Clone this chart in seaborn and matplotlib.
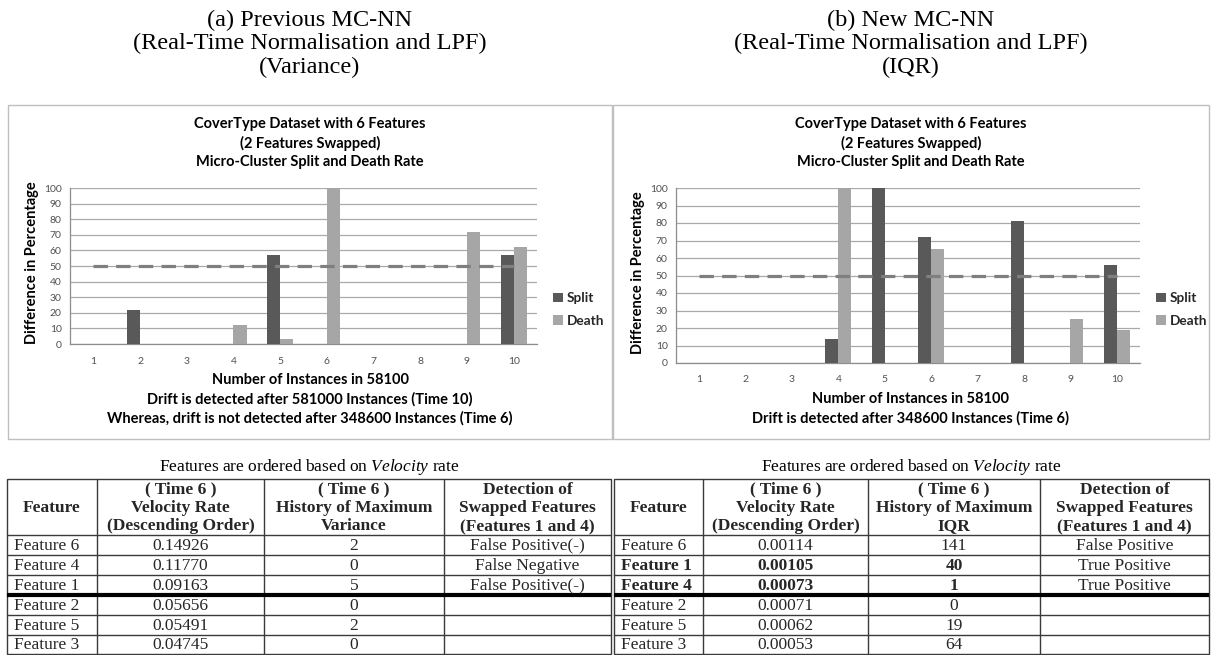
import numpy as np
import pandas as pd
import matplotlib
matplotlib.use("Agg")
import matplotlib.pyplot as plt
from matplotlib.patches import Rectangle, Patch
import seaborn as sns

# ---------------------------------------------------------------- data
times = [1, 2, 3, 4, 5, 6, 7, 8, 9, 10]
split_a = [0, 22, 0, 0, 57, 0, 0, 0, 0, 57]
death_a = [0, 0, 0, 12, 3, 100, 0, 0, 72, 62]
split_b = [0, 0, 0, 14, 100, 72, 0, 81, 0, 56]
death_b = [0, 0, 0, 100, 0, 65, 0, 0, 25, 19]
threshold = [50, 50, 50, 50, 50, 50, 50, 50, 50, 50]
series_names = ["Split", "Death"]
y_ticks = [0, 10, 20, 30, 40, 50, 60, 70, 80, 90, 100]

panel_titles_a = ["(a) Previous MC-NN", "(Real-Time Normalisation and LPF)", "(Variance)"]
panel_titles_b = ["(b) New MC-NN", "(Real-Time Normalisation and LPF)", "(IQR)"]
chart_title = ["CoverType Dataset with 6 Features", "(2 Features Swapped)",
               "Micro-Cluster Split and Death Rate"]
ylabel = "Difference in Percentage"
xlabel_a = ["Number of Instances in 58100",
            "Drift is detected after 581000 Instances (Time 10)",
            "Whereas, drift is not detected after 348600 Instances (Time 6)"]
xlabel_b = ["Number of Instances in 58100",
            "Drift is detected after 348600 Instances (Time 6)"]

table_caption = r"Features are ordered based on $\mathit{Velocity}$ rate"
header_a = ["Feature", "( Time 6 )\nVelocity Rate\n(Descending Order)",
            "( Time 6 )\nHistory of Maximum\nVariance",
            "Detection of\nSwapped Features\n(Features 1 and 4)"]
header_b = ["Feature", "( Time 6 )\nVelocity Rate\n(Descending Order)",
            "( Time 6 )\nHistory of Maximum\nIQR",
            "Detection of\nSwapped Features\n(Features 1 and 4)"]
features_a = ["Feature 6", "Feature 4", "Feature 1", "Feature 2", "Feature 5", "Feature 3"]
velocity_a = ["0.14926", "0.11770", "0.09163", "0.05656", "0.05491", "0.04745"]
history_a = [2, 0, 5, 0, 2, 0]
detection_a = ["False Positive(-)", "False Negative", "False Positive(-)", "", "", ""]
features_b = ["Feature 6", "Feature 1", "Feature 4", "Feature 2", "Feature 5", "Feature 3"]
velocity_b = ["0.00114", "0.00105", "0.00073", "0.00071", "0.00062", "0.00053"]
history_b = [141, 40, 1, 0, 19, 64]
detection_b = ["False Positive", "True Positive", "True Positive", "", "", ""]
bold_rows_b = ["Feature 1", "Feature 4"]

# ---------------------------------------------------------------- style
sns.set_style("white")
plt.rcParams["font.family"] = ["Lato", "DejaVu Sans"]
plt.rcParams["mathtext.fontset"] = "custom"
plt.rcParams["mathtext.rm"] = "Liberation Serif"
plt.rcParams["mathtext.it"] = "Liberation Serif:italic"
plt.rcParams["mathtext.bf"] = "Liberation Serif:bold"

SERIF = ["Liberation Serif", "DejaVu Serif"]
SPLIT_C = "#595959"
DEATH_C = "#a6a6a6"
GRID_C = "#a9a9a9"
TICK_C = "#505050"
CHART_FS = 10.5

W, H = 1211, 655
fig = plt.figure(figsize=(W / 100, H / 100), dpi=100)
fig.patch.set_facecolor("white")

# full-figure layer in pixel coordinates (origin top-left)
bg = fig.add_axes([0, 0, 1, 1], zorder=0)
bg.set_xlim(0, W)
bg.set_ylim(H, 0)
bg.axis("off")


def px_axes(x0, y0, x1, y1):
    return fig.add_axes([x0 / W, 1 - y1 / H, (x1 - x0) / W, (y1 - y0) / H], zorder=2)


def draw_chart(box, split, death, panel, xlabels, xlabel_top, legend_xy):
    px0, py0, px1, py1 = box
    ax = px_axes(px0, py0, px1, py1)
    ax.set_facecolor("none")
    df = pd.DataFrame({
        "Time": times * 2,
        "Rate": split + death,
        "Series": [series_names[0]] * len(times) + [series_names[1]] * len(times),
    })
    sns.barplot(data=df, x="Time", y="Rate", hue="Series", hue_order=series_names,
                palette={"Split": SPLIT_C, "Death": DEATH_C}, width=0.56,
                saturation=1, errorbar=None, linewidth=0, ax=ax, zorder=3)
    ax.plot(np.arange(len(times)), threshold, color="#7f7f7f", lw=2.3,
            linestyle=(0, (4.5, 2.6)), solid_capstyle="butt", zorder=4)
    ax.set_xlim(-0.5, len(times) - 0.5)
    ax.set_ylim(0, 100)
    ax.set_yticks(y_ticks)
    ax.set_yticklabels([str(v) for v in y_ticks])
    ax.yaxis.grid(True, color=GRID_C, lw=0.9, zorder=0)
    ax.set_axisbelow(True)
    for s in ["top", "right"]:
        ax.spines[s].set_visible(False)
    for s in ["left", "bottom"]:
        ax.spines[s].set_color("#8c8c8c")
        ax.spines[s].set_linewidth(0.9)
    ax.tick_params(axis="y", length=3, width=0.8, color="#8c8c8c", pad=3,
                   labelsize=7.5, labelcolor=TICK_C)
    ax.tick_params(axis="x", which="major", length=0, pad=9,
                   labelsize=7.5, labelcolor=TICK_C)
    ax.set_xticks(np.arange(-0.5, len(times), 1.0), minor=True)
    ax.tick_params(axis="x", which="minor", length=4, width=0.8, color="#8c8c8c")
    ax.set_xlabel("")
    ax.set_ylabel("")
    leg = ax.get_legend()
    if leg is not None:
        leg.remove()
    handles = [Patch(facecolor=SPLIT_C, edgecolor="none"),
               Patch(facecolor=DEATH_C, edgecolor="none")]
    ax.legend(handles, series_names, loc="center left",
              bbox_to_anchor=(legend_xy[0] / W, 1 - legend_xy[1] / H),
              bbox_transform=fig.transFigure, frameon=False,
              prop={"family": "Lato", "weight": "bold", "size": 9.8},
              handlelength=0.7, handleheight=0.7, handletextpad=0.3,
              labelspacing=0.75, borderpad=0, borderaxespad=0)

    # panel frame and texts
    fx0, fy0, fx1, fy1 = panel
    bg.add_patch(Rectangle((fx0, fy0), fx1 - fx0, fy1 - fy0, fill=False,
                           edgecolor="#bfbfbf", lw=1.0))
    cx = (fx0 + fx1) / 2
    for i, line in enumerate(chart_title):
        bg.text(cx, 124 + 19 * i, line, ha="center", va="center",
                fontsize=CHART_FS, fontweight="bold", color="black")
    for i, line in enumerate(xlabels):
        bg.text(cx, xlabel_top + 19 * i, line, ha="center", va="center",
                fontsize=CHART_FS, fontweight="bold", color="black")
    bg.text(px0 - 38, (py0 + py1) / 2 - 3, ylabel, rotation=90, ha="center",
            va="center", fontsize=CHART_FS, fontweight="bold", color="black")
    return ax


draw_chart((70, 188, 537, 344), split_a, death_a, (8, 105, 612, 439),
           xlabel_a, 380, (553, 309.5))
draw_chart((676, 188, 1140, 363), split_b, death_b, (613, 105, 1209, 439),
           xlabel_b, 399, (1156, 309.5))

# panel headings
for cx, lines in [(310, panel_titles_a), (911, panel_titles_b)]:
    for i, line in enumerate(lines):
        bg.text(cx, 20 + 23.5 * i, line, ha="center", va="center",
                fontsize=17.5, family=SERIF, color="black")


def draw_table(xe, header, features, velocity, history, detection, bold_rows):
    top, hdr = 479, 535
    ye = [535, 555, 575, 595, 615, 635, 654]
    line_c = "#3a3a3a"
    fs = 12.5
    cx = (xe[0] + xe[-1]) / 2
    bg.text(cx, 467, table_caption, ha="center", va="center", fontsize=12.5,
            family=SERIF, color="black")
    bg.add_patch(Rectangle((xe[0], top), xe[-1] - xe[0], ye[-1] - top,
                           fill=False, edgecolor=line_c, lw=1.0))
    for x in xe[1:-1]:
        bg.plot([x, x], [top, ye[-1]], color=line_c, lw=1.0)
    for y in ye[:-1]:
        bg.plot([xe[0], xe[-1]], [y, y], color=line_c, lw=1.0)
    bg.plot([xe[0], xe[-1]], [ye[3], ye[3]], color="black", lw=3.0,
            solid_capstyle="butt")
    for j, head in enumerate(header):
        lines = head.split("\n")
        mid = (top + hdr) / 2 + 1
        for k, line in enumerate(lines):
            y = mid + (k - (len(lines) - 1) / 2) * 18.5
            bg.text((xe[j] + xe[j + 1]) / 2, y, line, ha="center", va="center",
                    fontsize=fs, fontweight="bold", family=SERIF)
    for i in range(len(features)):
        yc = (ye[i] + ye[i + 1]) / 2 + 0.5
        w = "bold" if features[i] in bold_rows else "normal"
        bg.text(xe[0] + 7, yc, features[i], ha="left", va="center",
                fontsize=fs, fontweight=w, family=SERIF)
        bg.text((xe[1] + xe[2]) / 2, yc, velocity[i], ha="center", va="center",
                fontsize=fs, fontweight=w, family=SERIF)
        bg.text((xe[2] + xe[3]) / 2, yc, str(history[i]), ha="center",
                va="center", fontsize=fs, fontweight=w, family=SERIF)
        bg.text((xe[3] + xe[4]) / 2, yc, detection[i], ha="center", va="center",
                fontsize=fs, family=SERIF)


draw_table([7, 97, 264, 444, 611], header_a, features_a, velocity_a, history_a,
           detection_a, [])
draw_table([614, 703, 868, 1040, 1209], header_b, features_b, velocity_b,
           history_b, detection_b, bold_rows_b)

fig.savefig("out.png", dpi=100, facecolor="white")
